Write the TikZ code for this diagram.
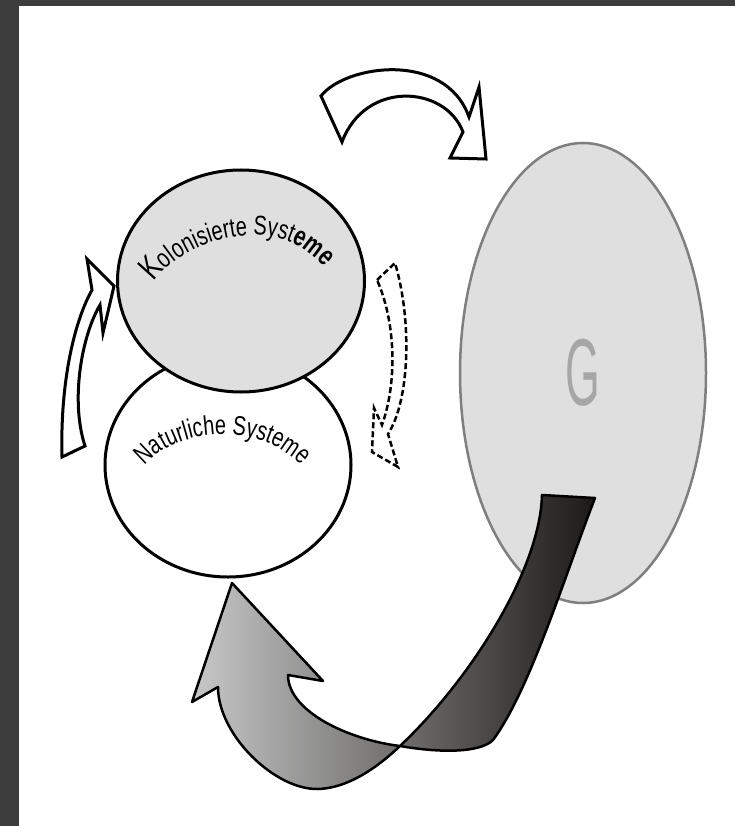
\documentclass[tikz,border=0pt]{standalone}
\usepackage{fontspec}
\setmainfont{Liberation Sans}
\newfontfamily\labelfont{Liberation Sans}[FakeStretch=0.74]
\usetikzlibrary{shapes.geometric, decorations.text}

\definecolor{frame}{HTML}{3D3D3D}
\definecolor{paleblob}{HTML}{DFDFDF}
\definecolor{globering}{HTML}{7F7F7F}
\definecolor{globetext}{HTML}{A6A6A6}
\definecolor{lightend}{HTML}{C8C8C8}
\definecolor{darkend}{HTML}{1C1A18}

\tikzstyle{system} = [
    ellipse,
    inner sep=0pt,
    line width=3pt,
    draw=black
]
\tikzstyle{sphere} = [
    ellipse,
    inner sep=0pt,
    line width=2.5pt,
    draw=globering,
    fill=paleblob
]
\tikzstyle{blockarrow} = [
    draw=black,
    line width=3pt,
    line join=miter,
    fill=white
]
\tikzstyle{ghostarrow} = [
    draw=black,
    line width=2.5pt,
    dash pattern=on 6pt off 3pt
]
\tikzstyle{flowarrow} = [
    draw=black,
    line width=2.5pt,
    line join=round,
    left color=lightend,
    right color=darkend
]

\begin{document}
\begin{tikzpicture}[x=1pt, y=-1pt]

\useasboundingbox (0,0) rectangle (735,826);
\fill [frame] (0,0) rectangle (735,826);
\fill [white] (19,6) rectangle (735,826);

\node (natur) [system, fill=white, minimum width=246pt, minimum height=224pt]
at (228,465) {};

\node (kolonie) [system, fill=paleblob, minimum width=247pt, minimum height=222pt]
at (241,281) {};

\node (globe) [sphere, minimum width=246pt, minimum height=460pt]
at (583,373) {\color{globetext}\fontsize{95}{95}\selectfont\scalebox{0.47}[1]{G}};

\path [decorate, decoration={text along path, text align=center,
    text={|\labelfont\fontsize{34}{34}\selectfont|K|\labelfont\fontsize{27}{27}\selectfont|olonisierte Syst|\labelfont\bfseries\fontsize{28}{28}\selectfont|eme}}]
    (148,291) .. controls (178,236) and (287,206) .. (330,276);

\path [decorate, decoration={text along path, text align=center,
    text={|\labelfont\fontsize{27}{27}\selectfont|Naturliche Systeme}}]
    (139,473) .. controls (170,424) and (270,420) .. (307,473);

\draw [blockarrow] (321,96) .. controls (345,65) and (445,50) .. (469,117)
    -- (479,87) -- (486,159) -- (450,158) -- (463,132)
    .. controls (445,85) and (365,80) .. (342,142) -- cycle;

\draw [blockarrow] (62,457) .. controls (60,380) and (75,320) .. (92,290)
    -- (87,259) -- (114,286) -- (103,333) -- (100,305)
    .. controls (82,335) and (70,400) .. (85,446) -- cycle;

\draw [ghostarrow] (377,280) -- (395,263)
    .. controls (412,320) and (410,400) .. (388,434)
    -- (398,467) -- (372,452) -- (374,408) -- (382,425)
    .. controls (398,380) and (395,320) .. cycle;

\path [flowarrow] (542,495) -- (595,498)
    .. controls (565,575) and (530,690) .. (493,740)
    .. controls (480,753) and (440,753) .. (400,746)
    .. controls (350,740) and (288,712) .. (288,675)
    -- (323,681) -- (232,583) -- (192,702) -- (218,687)
    .. controls (218,735) and (275,790) .. (318,789)
    .. controls (350,788) and (380,765) .. (400,746)
    .. controls (470,680) and (540,570) .. cycle;

\end{tikzpicture}
\end{document}
